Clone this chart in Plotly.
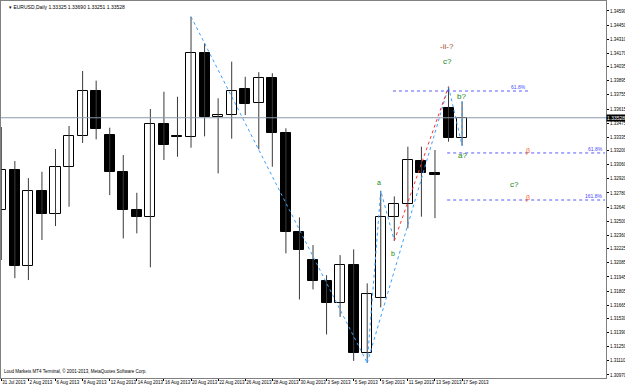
import plotly.graph_objects as go

# ---------------- data ----------------
dates = ["31 Jul 2013", "1 Aug 2013", "2 Aug 2013", "5 Aug 2013", "6 Aug 2013", "7 Aug 2013",
         "8 Aug 2013", "9 Aug 2013", "12 Aug 2013", "13 Aug 2013", "14 Aug 2013", "15 Aug 2013",
         "16 Aug 2013", "19 Aug 2013", "20 Aug 2013", "21 Aug 2013", "22 Aug 2013", "23 Aug 2013",
         "26 Aug 2013", "27 Aug 2013", "28 Aug 2013", "29 Aug 2013", "30 Aug 2013", "2 Sep 2013",
         "3 Sep 2013", "4 Sep 2013", "5 Sep 2013", "6 Sep 2013", "9 Sep 2013", "10 Sep 2013",
         "11 Sep 2013", "12 Sep 2013", "13 Sep 2013", "16 Sep 2013", "17 Sep 2013"]

opens = [1.32610, 1.33008, 1.32053, 1.32802, 1.32570, 1.33035, 1.33349, 1.33797, 1.33356, 1.32985,
         1.32610, 1.32537, 1.33466, 1.33346, 1.33333, 1.34169, 1.33532, 1.33552, 1.33811, 1.33672,
         1.33921, 1.33380, 1.32394, 1.32113, 1.31907, 1.31688, 1.32063, 1.31184, 1.31731, 1.32543,
         1.32670, 1.33101, 1.32975, 1.33622, 1.33325]
highs = [1.33436, 1.33098, 1.32928, 1.32991, 1.33217, 1.33446, 1.33993, 1.33897, 1.33429, 1.33157,
         1.32782, 1.33615, 1.33787, 1.33737, 1.34533, 1.34269, 1.33721, 1.34086, 1.33936, 1.33981,
         1.33971, 1.33423, 1.32537, 1.32262, 1.31963, 1.32162, 1.32219, 1.31881, 1.32802, 1.32746,
         1.33240, 1.33240, 1.33207, 1.33837, 1.33690]
lows = [1.32114, 1.31933, 1.31914, 1.32312, 1.32451, 1.32643, 1.33277, 1.33313, 1.32759, 1.32328,
        1.32378, 1.32040, 1.33108, 1.33140, 1.33230, 1.33343, 1.32975, 1.33320, 1.33555, 1.33214,
        1.33041, 1.32179, 1.31721, 1.31821, 1.31373, 1.31548, 1.31110, 1.31090, 1.31642, 1.32305,
        1.32429, 1.32544, 1.32530, 1.33290, 1.33251]
closes = [1.33009, 1.32053, 1.32799, 1.32570, 1.33038, 1.33349, 1.33797, 1.33413, 1.32991, 1.32610,
          1.32537, 1.33463, 1.33257, 1.33333, 1.34169, 1.33532, 1.33555, 1.33797, 1.33665, 1.33921,
          1.33380, 1.32394, 1.32212, 1.31907, 1.31688, 1.32063, 1.31184, 1.31774, 1.32537, 1.32666,
          1.33108, 1.32982, 1.32955, 1.33323, 1.33528]

price_ticks = [1.34590, 1.34450, 1.34310, 1.34170, 1.34035, 1.33895, 1.33755, 1.33615, 1.33475,
               1.33335, 1.33200, 1.33060, 1.32920, 1.32780, 1.32640, 1.32500, 1.32360, 1.32225,
               1.32085, 1.31945, 1.31805, 1.31665, 1.31530, 1.31390, 1.31250, 1.31110, 1.30970]
price_tick_labels = ["%.5f" % v for v in price_ticks]

bid_price = 1.33528
title_text = "▾ EURUSD,Daily 1.33325 1.33690 1.33251 1.33528"
copyright_text = "Loud Markets MT4 Terminal, © 2001-2013, MetaQuotes Software Corp."

# wave lines (bar index, price)
blue_wave_x = [14, 27, 28, 29]
blue_wave_y = [1.34533, 1.31090, 1.32802, 1.32305]
blue_wave2_x = [27, 33, 34, 34]
blue_wave2_y = [1.31090, 1.33837, 1.33251, 1.33690]
red_wave_x = [29, 33]
red_wave_y = [1.32305, 1.33837]

fib_levels = [1.33794, 1.33178, 1.32710]
fib_start = [28.9, 32.9, 32.9]
fib_end = [38.9, 44.55, 44.55]
fib_labels = ["61.8%", "61.8%", "161.8%"]

wave_labels = ["-ii-?", "c?", "b?", "a?", "c?", "a", "b"]
wave_label_x = [32.9, 32.95, 33.95, 34.05, 37.85, 27.9, 28.9]
wave_label_y = [1.34235, 1.34083, 1.33735, 1.33148, 1.32869, 1.32889, 1.32183]
wave_label_color = ["#a0522d", "#138a13", "#138a13", "#138a13", "#138a13", "#138a13", "#138a13"]
wave_label_size = [8, 8, 8, 8, 8, 7, 7]

mark_x = [38.85, 38.85]
mark_y = [1.33200, 1.32730]

FONT = "Liberation Sans, Arial, sans-serif"
NARROW = "Liberation Sans Narrow, Arial Narrow, Liberation Sans, sans-serif"

idx = list(range(len(dates)))

fig = go.Figure()

# wicks
wx, wy = [], []
for i in idx:
    wx += [i, i, None]
    wy += [lows[i], highs[i], None]
fig.add_trace(go.Scatter(x=wx, y=wy, mode="lines", line=dict(color="#3a3a3a", width=1),
                         hoverinfo="skip", showlegend=False))

# bodies
base = [min(o, c) for o, c in zip(opens, closes)]
height = [max(abs(c - o), 0.00002) for o, c in zip(opens, closes)]
colors = ["#ffffff" if c > o else "#000000" for o, c in zip(opens, closes)]
fig.add_trace(go.Bar(x=idx, y=height, base=base, width=0.74,
                     marker=dict(color=colors, line=dict(color="#000000", width=1)),
                     showlegend=False, hoverinfo="skip"))

# wave lines
fig.add_trace(go.Scatter(x=blue_wave_x, y=blue_wave_y, mode="lines",
                         line=dict(color="#3aa0ff", width=1, dash="dot"), showlegend=False))
fig.add_trace(go.Scatter(x=blue_wave2_x, y=blue_wave2_y, mode="lines",
                         line=dict(color="#3aa0ff", width=1, dash="dot"), showlegend=False))
fig.add_trace(go.Scatter(x=red_wave_x, y=red_wave_y, mode="lines",
                         line=dict(color="#ff3030", width=1, dash="dot"), showlegend=False))

# fib lines
for lv, xs, xe, lb in zip(fib_levels, fib_start, fib_end, fib_labels):
    fig.add_trace(go.Scatter(x=[xs, xe], y=[lv, lv], mode="lines",
                             line=dict(color="#5a5aff", width=1, dash="dot"), showlegend=False))
    fig.add_annotation(x=xe, y=lv, text=lb, showarrow=False, xanchor="right", yanchor="bottom",
                       font=dict(family=FONT, size=5, color="#4a4aff"), yshift=-1)

for t, x, y, c, s in zip(wave_labels, wave_label_x, wave_label_y, wave_label_color, wave_label_size):
    fig.add_annotation(x=x, y=y, text=t, showarrow=False, font=dict(family=FONT, size=s, color=c))
for x, y in zip(mark_x, mark_y):
    fig.add_annotation(x=x, y=y, text="β", showarrow=False,
                       font=dict(family=FONT, size=7, color="#ff5a2a"))

# bid line
fig.add_shape(type="line", xref="paper", x0=0, x1=1, yref="y", y0=bid_price, y1=bid_price,
              line=dict(color="#8a9aac", width=1))
fig.add_annotation(xref="paper", x=1.0, y=bid_price, text="%.5f" % bid_price, showarrow=False,
                   xanchor="left", yanchor="middle", bgcolor="#000000", borderpad=0, xshift=0,
                   font=dict(family=NARROW, size=5, color="#ffffff"))

fig.add_annotation(xref="paper", yref="paper", x=0.01, y=0.998, text=title_text, showarrow=False,
                   xanchor="left", yanchor="top", font=dict(family=FONT, size=5, color="#000000"))
fig.add_annotation(xref="paper", yref="paper", x=0.002, y=0.006, text=copyright_text, showarrow=False,
                   xanchor="left", yanchor="bottom", font=dict(family=FONT, size=4.5, color="#000000"))

fig.update_layout(
    width=625, height=385,
    margin=dict(l=1, r=19, t=1, b=7),
    paper_bgcolor="#ffffff", plot_bgcolor="#ffffff",
    showlegend=False, bargap=0,
    xaxis=dict(range=[-0.022, 44.62], showgrid=False, zeroline=False, automargin=False,
               tickmode="array", tickvals=idx[::2], ticktext=dates[::2], tickangle=0,
               ticks="outside", ticklen=2, tickcolor="#000000",
               ticklabelposition="outside right",
               tickfont=dict(family=FONT, size=4.5, color="#000000"),
               showline=True, linecolor="#808080", mirror=True),
    yaxis=dict(range=[1.30940, 1.34689], side="right", showgrid=False, zeroline=False,
               automargin=False,
               tickmode="array", tickvals=price_ticks, ticktext=price_tick_labels,
               ticks="outside", ticklen=2, tickcolor="#000000",
               tickfont=dict(family=NARROW, size=4.5, color="#000000"),
               showline=True, linecolor="#808080", mirror=True),
)

fig.write_html("out.html")
